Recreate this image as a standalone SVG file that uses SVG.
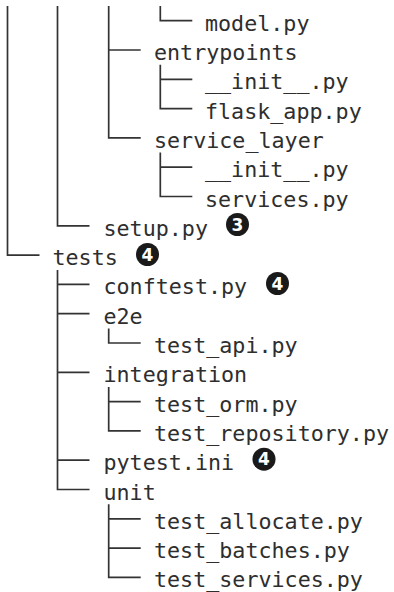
<svg xmlns="http://www.w3.org/2000/svg" width="394" height="592" viewBox="0 0 394 592">
<style>
.t{font-family:"DejaVu Sans Mono","Liberation Mono",monospace;font-size:21.7px;fill:#2e2e2e}
.c{stroke:#333;stroke-width:1.7;fill:none}
.b{fill:#1a1a1a}
.n{font-family:"DejaVu Sans","Liberation Sans",sans-serif;font-weight:bold;font-size:17px;fill:#fff;text-anchor:middle}
</style>
<rect width="394" height="592" fill="#fff"/>
<g id="connectors" class="c">
<path d="M7.5 6V255.1H39.5"/>
<path d="M57.5 6V225.8H89.5"/>
<path d="M57.5 270V489.5H89.5M57.5 284.4H89.5M57.5 313.7H89.5M57.5 372.3H89.5M57.5 460.2H89.5"/>
<path d="M108.7 6V137.9H140.7M108.7 50H140.7"/>
<path d="M108.7 328.4V343H140.7"/>
<path d="M108.7 387V430.9H140.7M108.7 401.6H140.7"/>
<path d="M108.7 504.2V577.4H140.7M108.7 518.8H140.7M108.7 548.1H140.7"/>
<path d="M160.3 6V20.7H192.3"/>
<path d="M160.3 64.7V108.6H192.3M160.3 79.3H192.3"/>
<path d="M160.3 152.5V196.5H192.3M160.3 167.2H192.3"/>
</g>
<g id="model"><text class="t" x="205" y="30.7">model.py</text></g>
<g id="entrypoints"><text class="t" x="154" y="60">entrypoints</text></g>
<g id="ep_init"><text class="t" x="205" y="89.3">__init__.py</text></g>
<g id="flask_app"><text class="t" x="205" y="118.6">flask_app.py</text></g>
<g id="service_layer"><text class="t" x="154" y="147.9">service_layer</text></g>
<g id="sl_init"><text class="t" x="205" y="177.2">__init__.py</text></g>
<g id="services"><text class="t" x="205" y="206.5">services.py</text></g>
<g id="setup"><text class="t" x="103.5" y="235.8">setup.py</text><circle class="b" cx="237.5" cy="224.5" r="11.5"/><text class="n" x="237.5" y="230.6">3</text></g>
<g id="tests"><text class="t" x="52.5" y="265.1">tests</text><circle class="b" cx="147.5" cy="254.5" r="11.5"/><text class="n" x="147.5" y="260.6">4</text></g>
<g id="conftest"><text class="t" x="103.5" y="294.4">conftest.py</text><circle class="b" cx="277.5" cy="283.5" r="11.5"/><text class="n" x="277.5" y="289.6">4</text></g>
<g id="e2e"><text class="t" x="103.5" y="323.7">e2e</text></g>
<g id="test_api"><text class="t" x="154" y="353">test_api.py</text></g>
<g id="integration"><text class="t" x="103.5" y="382.3">integration</text></g>
<g id="test_orm"><text class="t" x="154" y="411.6">test_orm.py</text></g>
<g id="test_repository"><text class="t" x="154" y="440.9">test_repository.py</text></g>
<g id="pytest_ini"><text class="t" x="103.5" y="470.2">pytest.ini</text><circle class="b" cx="264" cy="459.2" r="11.5"/><text class="n" x="264" y="465.3">4</text></g>
<g id="unit"><text class="t" x="103.5" y="499.5">unit</text></g>
<g id="test_allocate"><text class="t" x="154" y="528.8">test_allocate.py</text></g>
<g id="test_batches"><text class="t" x="154" y="558.1">test_batches.py</text></g>
<g id="test_services"><text class="t" x="154" y="587.4">test_services.py</text></g>
</svg>
